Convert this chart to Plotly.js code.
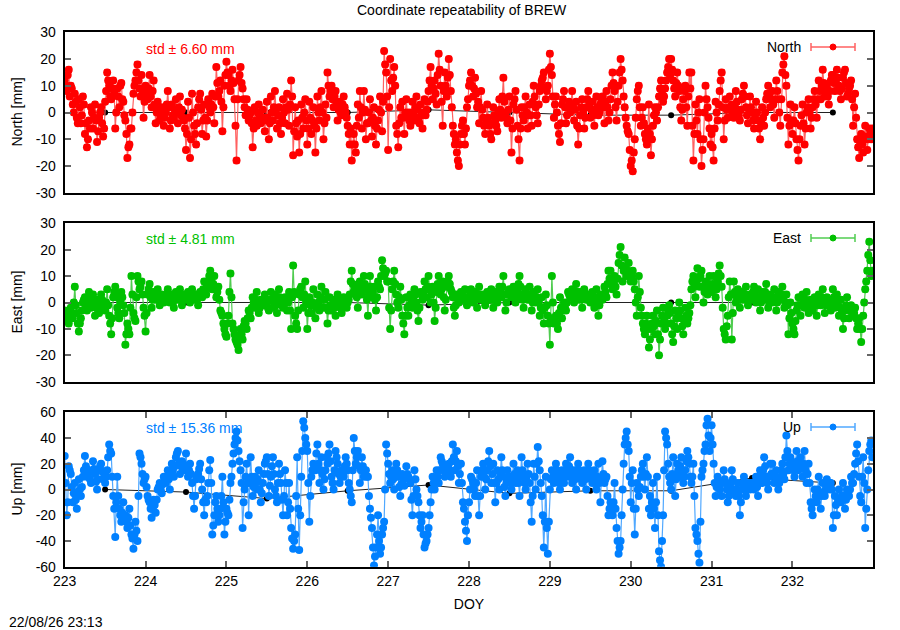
<!DOCTYPE html>
<html><head><meta charset="utf-8">
<script src="https://cdn.plot.ly/plotly-3.0.1.min.js"></script>
<style>html,body{margin:0;padding:0;background:#fff}#plot{width:900px;height:630px}</style>
</head><body><div id="plot"></div>
<script>
// ---- data ----
const startDoy = 223;
const stepDoy = 0.025;     // samples A at startDoy + i*step, samples B half a step later
const northVals = [
12,8,16,10,3,7,-2,5,-4,6, -8,-13,-3,2,-6,3,-11,-2,2,-9, 4,15,10,5,12,-6,9,2,11,4, -3,-17,-12,-6,7,12,18,9,14,-2,
10,5,14,2,12,-4,4,-3,2,-5, 0,8,-6,3,-2,5,-4,6,1,-3, -14,4,-17,7,-5,-12,2,7,-8,3, -9,5,0,7,-4,17,6,12,-7,10,
19,14,8,16,5,-18,12,17,9,2, 5,-3,0,-13,2,-5,3,-4,1,-7, 4,-10,6,-3,8,-6,2,-8,5,-4, 7,-5,12,-16,2,-9,-15,3,-6,5,
-12,4,-8,2,-15,6,-3,8,-10,3, 15,6,10,2,8,-3,4,-1,6,0, -5,-12,-18,-8,-15,3,8,-6,8,-10, -4,5,-9,2,-12,-3,6,-7,23,15,
-14,20,8,17,-5,-13,2,4,-8,5, 0,-5,4,-3,6,-2,3,-6,5,1, 8,17,5,12,3,22,10,-5,15,6, 20,8,-5,-12,-15,-20,-8,-3,-12,2,
10,15,6,13,2,-4,8,-2,-8,3, -5,-10,2,-3,-7,5,-2,13,0,-4, 6,-15,3,8,-5,-18,2,-3,6,-6, 3,-5,10,2,-4,8,12,15,5,10,
22,14,-2,6,-5,-11,3,8,-4,2, 0,8,-3,4,-12,-1,5,-6,2,8, -2,4,-5,6,-1,3,6,-4,8,-3, 5,15,8,-3,10,20,12,2,-5,-8,
-20,-22,-10,5,10,-5,2,-8,-12,3, -16,-5,2,-3,6,12,4,9,15,20, 20,12,6,15,8,-3,5,10,-5,15, 15,-18,3,-8,5,-20,-10,10,2,-6,
-8,-18,4,-3,8,15,-10,5,-2,6, 3,-2,8,1,-3,5,10,2,-4,6, 0,-6,4,-3,-10,2,-5,5,10,2, 8,-2,12,5,-5,15,21,10,-12,3,
-8,2,-10,-18,-5,3,-12,0,5,-6, 2,8,-2,12,5,16,6,10,3,12, 14,8,16,10,5,13,16,6,9,12, -5,7,-10,-17,-8,-15,-5,-14,-6,-10
];
const northVals2 = [
10,14,6,9,0,4,-4,2,-1,3, -4,-10,-6,0,-2,-3,-7,0,-4,-6, 8,12,6,9,7,0,6,10,5,-1, -8,-13,-6,0,10,15,12,6,8,4,
7,9,6,8,3,0,1,-2,-1,-2, 3,2,-3,-1,1,0,2,-1,-2,-6, -8,-2,-10,0,-8,-4,5,1,-3,-2, -3,2,3,2,6,11,8,4,2,14,
15,10,12,11,-5,5,14,11,5,-1, 1,-1,-4,-6,-3,0,-1,-2,-3,-2, -2,-4,0,2,1,-1,-4,-2,0,2, 1,3,6,-7,-4,-3,-8,-2,0,-3,
-6,-2,-3,-5,-6,0,2,0,-4,-2, 10,8,5,6,3,1,0,3,2,-2, -8,-6,-12,-12,-5,-2,2,0,1,-4, 0,-3,-2,-5,-6,1,0,4,18,6,
2,12,13,10,-8,-4,-2,-2,0,-1, -3,0,-1,2,1,-4,-1,0,-1,4, 12,10,9,7,14,16,4,8,10,13, 14,2,-8,-10,-18,-12,-5,-8,-6,5,
12,10,9,7,4,2,1,-5,-3,-2, -8,-4,-1,-5,0,1,6,4,-2,1, -3,-6,5,1,-10,-6,-1,2,0,-1, -1,4,6,-1,3,10,13,9,8,16,
17,6,3,0,-8,-4,5,2,-1,4, 3,2,1,-5,-6,2,0,-2,5,3, 1,-1,1,2,0,4,2,4,2,0, 10,11,2,4,15,16,6,-2,-7,-14,
-18,-15,-2,8,2,-2,-4,-10,-6,-8, -10,-1,0,2,9,8,6,12,17,14, 16,9,11,10,2,1,8,2,6,9, -5,-8,-3,0,-10,-14,0,5,-2,-12,
-13,-6,0,3,12,2,-3,1,2,1, 0,3,4,-1,1,7,6,-1,1,2, -3,-1,0,-6,-4,-2,0,7,6,5, 3,5,8,0,5,18,14,-2,-5,-3,
-3,-4,-14,-10,-1,-4,-6,2,0,-2, 5,3,5,8,10,11,8,6,8,14, 11,12,13,8,9,15,11,7,10,5, 2,-2,-13,-12,-12,-10,-9,-10,-8,-6
];
const eastVals = [
-3,-5,-8,-2,-6,6,-4,-11,-6,0, 2,-3,4,-2,3,-5,1,-4,3,0, -3,5,-5,-12,2,6,-2,-6,4,-1, -16,-8,-12,10,-4,-7,10,5,8,-2,
-11,3,7,-2,4,1,5,-1,3,0, 2,5,0,3,-2,4,1,5,-1,3, 2,4,0,5,1,3,-1,4,2,8, 3,8,12,5,10,2,6,-3,-5,-10,
-13,-5,11,-8,-12,-15,-18,-10,-14,-7, -10,-3,-6,2,-2,4,-4,1,-1,3, 0,-3,4,-2,3,-4,5,0,-2,2, -3,4,-10,14,-5,-10,3,6,-2,8,
-10,2,-4,5,-6,3,-3,6,-2,4, -8,2,-3,1,-5,3,0,-4,2,-1, 0,3,12,4,6,-2,8,3,10,5, -5,10,2,6,-3,8,5,16,10,12,
8,-10,5,12,3,-2,6,-5,-12,2, -5,3,-2,5,0,-7,4,1,8,2, 10,0,6,-7,4,10,3,8,-3,6, 10,5,2,-5,3,0,4,1,5,-1,
2,5,0,4,-2,6,1,3,-1,4, 1,5,-2,4,0,6,2,10,-3,3, 5,2,6,0,4,10,3,-2,5,1, 6,-3,4,0,5,-5,2,-8,3,-5,
-16,10,-8,-5,-10,2,-6,0,-3,4, 2,5,0,7,1,4,-2,5,1,3, 0,4,-2,5,-5,3,1,6,2,12, 12,5,10,3,15,21,8,17,10,15,
8,12,5,-5,10,-2,-8,-12,-5,-17, -10,-5,-12,-3,-20,-8,-2,-10,-5,-1, -8,-15,-3,-10,0,-6,-12,-2,-8,-4, 5,10,2,13,6,12,0,8,3,10,
4,10,2,8,14,6,-10,-14,-5,8, -14,8,0,5,-2,4,1,6,-1,3, 2,6,0,5,-3,4,1,7,-2,3, 0,5,-3,4,1,6,-2,3,-12,0,
-8,-12,-3,2,-5,3,-2,4,-4,1, -3,2,-5,3,-1,5,-4,2,0,-3, 5,-2,3,-5,1,-10,-3,2,-6,-1, -5,-2,-10,-6,-15,-5,5,12,23,10
];
const eastVals2 = [
-5,-6,-4,-4,0,-1,-8,-8,-3,1, -1,0,1,0,-1,-2,-2,0,1,-2, 0,-1,-8,-6,4,2,-4,0,2,-4, -12,-10,-2,3,-6,2,8,6,3,-5,
-4,5,2,1,2,3,2,1,1,2, 3,2,1,0,1,2,3,2,1,1, 3,1,2,3,2,1,2,3,5,5, 6,10,8,7,6,4,1,-4,-8,-12,
-8,4,2,-10,-14,-16,-14,-12,-9,-8, -6,-4,-2,0,1,0,-2,0,1,1, -2,1,1,0,-1,1,2,-1,0,0, 0,-3,2,4,-8,-3,5,2,3,0,
-4,-1,0,-1,-2,0,2,1,1,-2, -3,-1,-1,-2,-1,2,-2,-1,0,-2, 1,8,7,5,2,3,5,6,7,1, 3,6,4,1,2,6,10,13,11,8,
-2,-3,8,7,0,2,1,-8,-5,-2, -1,0,2,3,-3,-2,3,4,5,6, 5,3,0,-2,7,6,5,2,1,8, 7,4,-2,-1,1,2,3,2,2,1,
3,2,2,1,2,3,2,1,2,1, 3,1,1,2,3,4,6,3,0,4, 3,4,3,2,7,6,1,2,3,3, 1,0,2,2,0,-2,-3,-2,-1,-8,
-6,0,-6,-8,-4,-2,-3,-1,0,3, 3,2,4,4,2,1,2,3,2,1, 2,1,2,0,-1,2,3,4,7,9, 8,7,6,9,18,14,12,13,12,10,
10,8,0,2,4,-5,-10,-8,-10,-14, -8,-9,-7,-12,-14,-5,-6,-8,-3,-4, -12,-9,-6,-5,-3,-9,-7,-5,-6,-1, 8,6,8,9,10,6,4,5,7,6,
7,6,5,11,10,-2,-12,-9,2,3, -4,4,2,2,1,3,3,2,1,1, 4,3,2,1,0,3,4,2,0,1, 2,1,0,2,3,2,0,-1,-6,-4,
-10,-7,-1,-1,-1,0,1,0,-1,-1, 0,-1,-1,1,2,0,-1,1,-1,1, 2,0,-1,-2,-4,-6,-1,-2,-3,-3, -4,-6,-8,-10,-10,0,8,18,16,12
];
const upVals = [
26,-20,18,12,-10,5,-15,8,-5,10, 26,10,15,5,22,12,0,15,20,8, 5,15,35,28,-5,-37,10,-15,-25,-10, -20,-30,-15,-35,-46,-25,-40,28,20,5,
10,-5,-10,-22,-8,-18,0,5,-3,10, 5,15,0,20,10,25,30,12,22,15, 28,10,20,5,-15,8,12,20,0,-20, -10,5,23,-35,-20,-5,-25,-15,10,-35,
-15,-20,5,20,35,45,30,15,-30,0, 20,-20,25,-5,10,0,15,-10,5,20, 25,-5,10,25,0,-10,20,5,-20,15, -20,5,-30,-46,-35,25,-47,10,53,40,
30,-25,10,20,15,35,5,25,0,15, 20,35,10,0,30,20,5,15,10,25, 15,0,-10,40,20,30,5,25,10,15, 10,-15,-30,-59,-45,-20,-50,-35,-25,35,
20,5,15,0,20,10,-5,12,3,18, 10,5,-20,15,0,-10,-30,-20,-45,-40, -30,-10,10,0,15,5,25,20,10,15, 20,10,35,15,30,5,20,-10,-25,-40,
-10,10,5,-5,15,-20,10,20,0,15, 30,5,20,-10,15,0,25,10,-5,15, 10,0,20,5,15,-5,25,10,0,20, 5,-25,20,0,33,15,-5,-45,10,-50,
0,15,5,20,10,0,15,5,20,10, 25,5,15,0,20,10,5,15,0,20, 10,5,15,0,20,-10,22,5,10,-20, -10,-20,5,-30,-50,-40,0,35,45,30,
-10,15,-35,5,-5,10,20,0,25,-15, -20,5,-30,10,-48,-60,-20,45,35,10, 0,25,-5,20,10,25,5,15,30,20, 5,20,-30,-40,-57,10,20,35,55,30,
50,20,-5,10,0,-5,15,5,-10,0, 15,0,-5,5,-20,0,10,-5,5,0, 5,0,10,-5,15,5,25,10,0,20, 20,5,15,0,10,20,8,42,15,25,
20,10,30,15,25,10,30,5,20,-10, -20,0,-10,10,-15,5,-5,8,0,5, -30,-5,-20,0,-10,5,-15,0,-5,10, 5,20,35,10,-10,25,-30,0,30,38
];
const upVals2 = [
5,-10,15,2,-3,-8,-2,0,2,15, 18,12,8,14,16,6,8,18,14,12, 10,25,30,10,-15,-10,-5,-20,-18,-22, -25,-22,-28,-38,-35,-32,-5,25,12,8,
2,-8,-15,-15,-12,-8,2,0,4,6, 10,8,12,15,18,28,20,18,20,18, 18,15,12,-5,-5,10,16,8,-10,-8, -5,15,5,-28,-10,-15,-20,-5,-10,-25,
-18,-8,10,28,40,38,22,5,-10,10, 5,5,10,2,5,8,0,-3,12,22, 12,3,18,12,-5,5,12,-8,-5,5, -10,-15,-38,-40,-5,-15,-20,30,48,35,
5,-5,15,18,28,20,15,12,8,25, 28,22,5,15,25,12,10,12,18,20, 5,-5,15,30,25,18,15,18,12,10, -5,-22,-45,-52,-35,-40,-45,-30,0,28,
12,10,8,10,15,2,4,8,10,12, 8,-8,-5,8,-5,-20,-25,-35,-42,-35, -20,0,5,8,10,15,22,15,12,18, 15,22,25,22,18,12,5,-15,-32,-20,
0,8,0,5,-5,-5,15,10,8,22, 18,12,5,5,8,12,15,2,5,10, 5,10,12,10,5,10,15,5,10,12, -10,-5,10,20,22,5,-20,-25,-30,-25,
8,10,12,15,5,8,10,12,15,18, 15,10,8,10,15,8,10,8,10,15, 8,10,5,10,5,8,12,8,-5,-15, -15,-10,-15,-40,-45,-20,20,40,35,10,
5,-15,-15,0,2,15,10,12,10,-5, -10,-15,-10,-20,-55,-40,15,40,20,5, 12,10,8,15,18,15,10,22,25,10, 10,-5,-35,-50,-25,15,30,50,42,40,
35,5,2,5,5,5,8,0,-5,5, 8,-2,0,-5,-10,5,2,0,2,5, 2,5,2,5,10,15,18,5,10,12, 12,10,8,5,15,12,25,30,20,22,
15,20,22,20,18,20,15,12,5,-15, -10,-5,0,-5,-5,-2,0,2,5,0, -20,-12,-10,-8,-5,-5,-8,-5,0,5, 12,28,22,-5,10,5,-15,15,35,25
];
// daily solutions (black line)
const dailyDoy = [223.5,224.5,225.5,226.5,227.5,228.5,229.5,230.5,231.5,232.5];
const dailyNorth = [0,0,0,0,1,0,-1,-1,0,0];
const dailyEast = [0,0,0,0,-1,0,0,0,0,0];
const dailyUp = [0,-2,-7,-1,3.5,-3,-1,-1,9,5];
// labels
const components = ['North','East','Up'];
const stdTexts = ['std \u00b1 6.60 mm','std \u00b1 4.81 mm','std \u00b1 15.36 mm'];
const yTitles = ['North [mm]','East [mm]','Up [mm]'];
const doyTicks = [223,224,225,226,227,228,229,230,231,232];
const nmTicks = [-30,-20,-10,0,10,20,30];
const upTicks = [-60,-40,-20,0,20,40,60];

// ---- drawing ----
const W = 900, H = 630;
const px = x => x / W, py = y => 1 - y / H;
const colors = ['#ff0000', '#00c000', '#0080ff'];
const lightColors = ['#ff6060', '#50cc50', '#50a8ff'];
const seriesA = [northVals, eastVals, upVals];
const seriesB = [northVals2, eastVals2, upVals2];
const dailies = [dailyNorth, dailyEast, dailyUp];
const FONT = 'Liberation Sans, Arial, sans-serif';

function interleave(a, b) {
  const xs = [], ys = [];
  a.forEach((v, i) => {
    xs.push(startDoy + i * stepDoy); ys.push(v);
    xs.push(startDoy + (i + 0.5) * stepDoy); ys.push(b[i]);
  });
  return {xs, ys};
}

const traces = [];
for (let k = 0; k < 3; k++) {
  const ax = k === 0 ? '' : String(k + 1);
  traces.push({
    x: dailyDoy, y: dailies[k], xaxis: 'x' + ax, yaxis: 'y' + ax,
    type: 'scatter', mode: 'lines+markers',
    line: {color: '#222', width: 1}, marker: {color: '#000', size: 6},
    showlegend: false
  });
}
for (let k = 0; k < 3; k++) {
  const ax = k === 0 ? '' : String(k + 1);
  const s = interleave(seriesA[k], seriesB[k]);
  traces.push({
    x: s.xs, y: s.ys, xaxis: 'x' + ax, yaxis: 'y' + ax,
    type: 'scatter', mode: 'lines+markers', name: components[k],
    line: {color: lightColors[k], width: 1.2},
    marker: {color: colors[k], size: 8, symbol: 'circle'},
    error_y: {type: 'constant', value: 1.0, width: 3, thickness: 1, color: colors[k]},
    showlegend: false
  });
}

const xdom = [px(64.7), px(873.3)];
const ydoms = [[py(192.7), py(32.3)], [py(381.7), py(223.3)], [py(566.7), py(412.3)]];
const baseAxis = {
  showline: true, linecolor: '#000', linewidth: 2, mirror: true,
  showgrid: false, zeroline: false,
  tickfont: {family: FONT, size: 14, color: '#000'}
};
const layout = {
  width: W, height: H, margin: {l: 0, r: 0, t: 0, b: 0},
  paper_bgcolor: '#fff', plot_bgcolor: '#fff',
  font: {family: FONT, size: 14, color: '#000'},
  showlegend: false,
  annotations: [], shapes: []
};
for (let k = 0; k < 3; k++) {
  const ax = k === 0 ? '' : String(k + 1);
  const isBottom = k === 2;
  layout['xaxis' + ax] = Object.assign({}, baseAxis, {
    domain: xdom, range: [223, 233], anchor: 'y' + ax,
    tickmode: 'array', tickvals: doyTicks, ticktext: doyTicks.map(String),
    showticklabels: isBottom, ticks: isBottom ? 'inside' : '', ticklen: 6, tickcolor: '#666', tickwidth: 2,
    mirror: isBottom ? 'ticks' : true
  });
  const tv = isBottom ? upTicks : nmTicks;
  layout['yaxis' + ax] = Object.assign({}, baseAxis, {
    domain: ydoms[k], range: isBottom ? [-60, 60] : [-30, 30], anchor: 'x' + ax,
    tickmode: 'array', tickvals: tv, ticktext: tv.map(String),
    ticks: 'inside', ticklen: 6, tickcolor: '#666', tickwidth: 2, mirror: 'ticks',
    ticklabelstandoff: 4
  });
}
layout.xaxis3.title = {text: 'DOY', font: {family: FONT, size: 14}, standoff: 12};

// annotations
const ann = layout.annotations;
ann.push({text: 'Coordinate repeatability of BREW', xref: 'paper', yref: 'paper', x: px(462), y: py(10),
  showarrow: false, xanchor: 'center', yanchor: 'middle', font: {family: FONT, size: 14}});
ann.push({text: '22/08/26 23:13', xref: 'paper', yref: 'paper', x: px(7), y: py(622),
  showarrow: false, xanchor: 'left', yanchor: 'middle', font: {family: FONT, size: 14}});
const stdY = [49, 239, 428];
const legY = [47, 238, 427];
const titleY = [112.5, 302.5, 489.5];
for (let k = 0; k < 3; k++) {
  ann.push({text: stdTexts[k], xref: 'paper', yref: 'paper', x: px(144), y: py(stdY[k]),
    showarrow: false, xanchor: 'left', yanchor: 'middle', font: {family: FONT, size: 14, color: colors[k]}});
  ann.push({text: components[k], xref: 'paper', yref: 'paper', x: px(803), y: py(legY[k]),
    showarrow: false, xanchor: 'right', yanchor: 'middle', font: {family: FONT, size: 14, color: '#000'}});
  ann.push({text: yTitles[k], xref: 'paper', yref: 'paper', x: px(16), y: py(titleY[k]), textangle: -90,
    showarrow: false, xanchor: 'center', yanchor: 'middle', font: {family: FONT, size: 14, color: '#000'}});
  // legend sample: line with error-bar caps and a dot
  const yy = py(legY[k]);
  layout.shapes.push({type: 'line', xref: 'paper', yref: 'paper', x0: px(811), x1: px(855), y0: yy, y1: yy,
    line: {color: lightColors[k], width: 1.5}});
  layout.shapes.push({type: 'line', xref: 'paper', yref: 'paper', x0: px(811), x1: px(811), y0: py(legY[k] - 4), y1: py(legY[k] + 4),
    line: {color: lightColors[k], width: 1.5}});
  layout.shapes.push({type: 'line', xref: 'paper', yref: 'paper', x0: px(855), x1: px(855), y0: py(legY[k] - 4), y1: py(legY[k] + 4),
    line: {color: lightColors[k], width: 1.5}});
  layout.shapes.push({type: 'circle', xref: 'paper', yref: 'paper', x0: px(830), x1: px(836), y0: py(legY[k] + 3), y1: py(legY[k] - 3),
    fillcolor: colors[k], line: {color: colors[k], width: 1}});
}

Plotly.newPlot('plot', traces, layout, {staticPlot: true, displayModeBar: false});
</script>
</body></html>
